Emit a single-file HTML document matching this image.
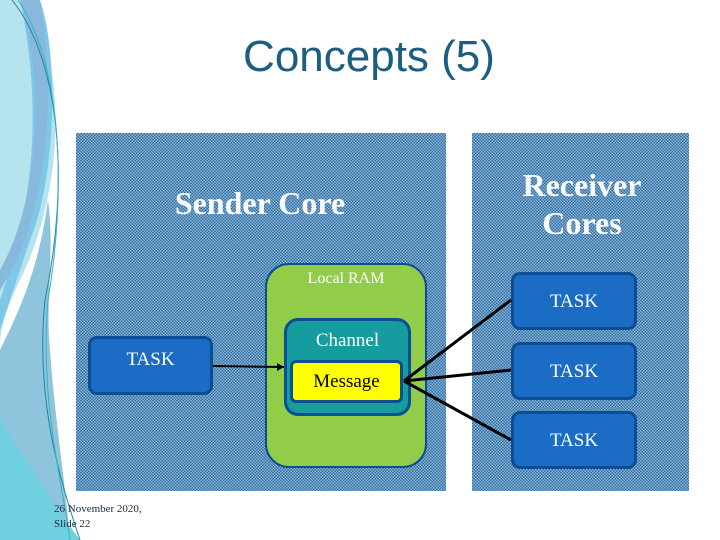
<!DOCTYPE html>
<html><head><style>
body{margin:0;width:720px;height:540px;background:#fff;overflow:hidden;position:relative;font-family:"Liberation Serif",serif}
.a{position:absolute}
.panel{position:absolute;background-color:#5a92bd;background-image:repeating-conic-gradient(#2f6fa3 0 25%,#8cb6d6 0 50%);background-size:3px 3px}
.task{position:absolute;background:#1a6cc4;border:3px solid #0c4e93;border-radius:9px;color:#fff;font-size:19px;text-align:center;box-sizing:border-box}
</style></head><body>
<svg class="a" style="left:0;top:0" width="720" height="540">
<path d="M0,0 L30,0 C70,80 60,200 20,280 C0,320 0,340 0,350 Z" fill="#b5e3ee"/>
<path d="M20,0 L40,0 C60,60 55,180 30,240 C20,270 10,300 0,330 L0,300 C20,240 50,140 20,0 Z" fill="#7fc7e8"/>
<path d="M0,290 C40,230 60,120 40,0 L20,0 C45,80 40,200 0,270 Z" fill="#88b8dc"/>
<path d="M0,350 C25,300 40,260 48,200 C55,250 45,300 50,350 C55,420 65,480 70,540 L0,540 Z" fill="#8ec4dc"/>
<path d="M0,540 L0,420 C20,450 50,500 80,540 Z" fill="#6fd0e0"/>
<path d="M12,0 C60,60 70,180 45,300 C35,400 60,480 80,540" stroke="#1a8aa0" stroke-width="1" fill="none"/>
<path d="M18,0 C65,70 65,200 48,300 C40,400 60,470 70,540" stroke="#3bb0c0" stroke-width="1" fill="none"/>
</svg>
<div class="a" style="left:0;top:32px;width:738px;text-align:center;font-family:'Liberation Sans',sans-serif;font-size:44px;color:#1b5e80">Concepts (5)</div>
<div class="panel" style="left:76px;top:133px;width:370px;height:358px"></div>
<div class="panel" style="left:472px;top:133px;width:217px;height:358px"></div>
<div class="a" style="left:120px;top:185px;width:280px;text-align:center;color:#fff;font-weight:bold;font-size:32px">Sender Core</div>
<div class="a" style="left:482px;top:166px;width:200px;text-align:center;color:#fff;font-weight:bold;font-size:32px;line-height:38px">Receiver Cores</div>
<div class="a" style="left:265px;top:263px;width:162px;height:205px;background:#92cd4a;border:2px solid #0c4e93;border-radius:24px;box-sizing:border-box"></div>
<div class="a" style="left:265px;top:270px;width:162px;text-align:center;color:#fff;font-size:16px">Local RAM</div>
<div class="a" style="left:284px;top:318px;width:127px;height:98px;background:#169b9e;border:3px solid #0c4e93;border-radius:14px;box-sizing:border-box"></div>
<div class="a" style="left:284px;top:330px;width:127px;text-align:center;color:#fff;font-size:19px">Channel</div>
<div class="a" style="left:290px;top:360px;width:113px;height:43px;background:#ffff00;border:3px solid #0c4e93;border-radius:6px;box-sizing:border-box;text-align:center;font-size:19px;line-height:38px;color:#000">Message</div>
<div class="task" style="left:88px;top:336px;width:125px;height:59px;line-height:56px"><span style="position:relative;top:-7px">TASK</span></div>
<div class="task" style="left:511px;top:272px;width:126px;height:58px;line-height:54px">TASK</div>
<div class="task" style="left:511px;top:342px;width:126px;height:58px;line-height:54px">TASK</div>
<div class="task" style="left:511px;top:411px;width:126px;height:58px;line-height:54px">TASK</div>
<svg class="a" style="left:0;top:0" width="720" height="540">
<path d="M213,366 L284,367" stroke="#000" stroke-width="2"/>
<path d="M284,367 L277,363 L277,371 Z" fill="#000"/>
<path d="M511,300 L404,381 M511,370 L404,381 M511,440 L404,381" stroke="#000" stroke-width="3" fill="none"/>
</svg>
<div class="a" style="left:54px;top:502px;font-size:11px;line-height:15px;color:#1a2a40">26 November 2020,<br>Slide 22</div>
</body></html>
